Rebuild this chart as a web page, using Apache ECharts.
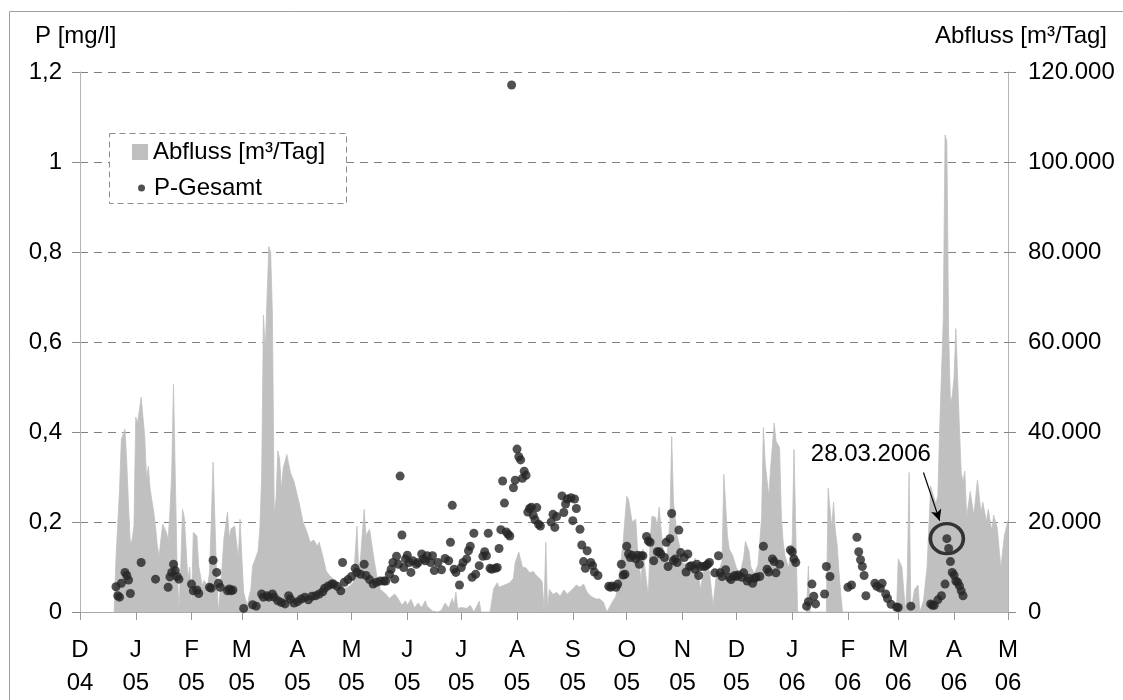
<!DOCTYPE html>
<html>
<head>
<meta charset="utf-8">
<style>
  html, body { margin: 0; padding: 0; background: #fff; }
  #chart { width: 1123px; height: 700px; }
</style>
<script src="https://cdn.jsdelivr.net/npm/echarts@6/dist/echarts.min.js"></script>
</head>
<body>
<div id="chart"></div>
<script>
// Zeitraum der Darstellung (Tagesachse)
const startDatum = '2004-12-01';
const endDatum = '2006-05-01';

// Monatsbuchstaben für die Achsenbeschriftung
const monatsKuerzel = ['J', 'F', 'M', 'A', 'M', 'J', 'J', 'A', 'S', 'O', 'N', 'D'];

// Abfluss [m³/Tag]
const abflussDatum = [
  '2004-12-20','2004-12-21','2004-12-23','2004-12-24','2004-12-26','2004-12-27','2004-12-28','2004-12-29','2004-12-30','2004-12-31',
  '2005-01-01','2005-01-02','2005-01-04','2005-01-05','2005-01-06','2005-01-07','2005-01-08','2005-01-09','2005-01-11','2005-01-12',
  '2005-01-13','2005-01-14','2005-01-15','2005-01-16','2005-01-18','2005-01-19','2005-01-20','2005-01-21','2005-01-22','2005-01-23',
  '2005-01-24','2005-01-25','2005-01-26','2005-01-27','2005-01-28','2005-01-30','2005-01-31','2005-02-01','2005-02-02','2005-02-04',
  '2005-02-05','2005-02-07','2005-02-08','2005-02-10','2005-02-11','2005-02-12','2005-02-13','2005-02-14','2005-02-15','2005-02-16',
  '2005-02-18','2005-02-19','2005-02-21','2005-02-22','2005-02-23','2005-02-25','2005-02-26','2005-02-27','2005-02-28','2005-03-01',
  '2005-03-02','2005-03-04','2005-03-05','2005-03-06','2005-03-07','2005-03-09','2005-03-10','2005-03-11','2005-03-12','2005-03-13',
  '2005-03-14','2005-03-15','2005-03-16','2005-03-17','2005-03-18','2005-03-19','2005-03-20','2005-03-21','2005-03-22','2005-03-23',
  '2005-03-24','2005-03-26','2005-03-27','2005-03-28','2005-03-30','2005-03-31','2005-04-02','2005-04-04','2005-04-06','2005-04-08',
  '2005-04-10','2005-04-12','2005-04-13','2005-04-15','2005-04-17','2005-04-19','2005-04-21','2005-04-23','2005-04-25','2005-04-27',
  '2005-04-30','2005-05-02','2005-05-04','2005-05-05','2005-05-06','2005-05-08','2005-05-09','2005-05-11','2005-05-13','2005-05-15',
  '2005-05-17','2005-05-20','2005-05-22','2005-05-25','2005-05-27','2005-05-29','2005-05-31','2005-06-01','2005-06-03','2005-06-05',
  '2005-06-07','2005-06-09','2005-06-11','2005-06-12','2005-06-15','2005-06-16','2005-06-18','2005-06-20','2005-06-22','2005-06-24',
  '2005-06-26','2005-06-27','2005-06-28','2005-06-29','2005-07-01','2005-07-04','2005-07-06','2005-07-08','2005-07-09','2005-07-11',
  '2005-07-12','2005-07-17','2005-07-19','2005-07-21','2005-07-22','2005-07-25','2005-07-28','2005-07-30','2005-07-31','2005-08-02',
  '2005-08-03','2005-08-04','2005-08-06','2005-08-08','2005-08-10','2005-08-12','2005-08-14','2005-08-15','2005-08-16','2005-08-17',
  '2005-08-18','2005-08-19','2005-08-21','2005-08-23','2005-08-25','2005-08-27','2005-08-29','2005-08-30','2005-09-01','2005-09-03',
  '2005-09-05','2005-09-07','2005-09-09','2005-09-11','2005-09-12','2005-09-14','2005-09-16','2005-09-18','2005-09-20','2005-09-22',
  '2005-09-23','2005-09-25','2005-09-27','2005-09-29','2005-10-01','2005-10-02','2005-10-04','2005-10-06','2005-10-07','2005-10-09',
  '2005-10-10','2005-10-11','2005-10-13','2005-10-14','2005-10-15','2005-10-17','2005-10-18','2005-10-19','2005-10-20','2005-10-21',
  '2005-10-23','2005-10-24','2005-10-25','2005-10-26','2005-10-27','2005-10-29','2005-10-31','2005-11-01','2005-11-03','2005-11-04',
  '2005-11-06','2005-11-08','2005-11-09','2005-11-11','2005-11-12','2005-11-13','2005-11-15','2005-11-16','2005-11-18','2005-11-20',
  '2005-11-22','2005-11-23','2005-11-24','2005-11-26','2005-11-27','2005-11-29','2005-12-01','2005-12-03','2005-12-05','2005-12-06',
  '2005-12-08','2005-12-09','2005-12-11','2005-12-13','2005-12-15','2005-12-16','2005-12-17','2005-12-19','2005-12-20','2005-12-22',
  '2005-12-23','2005-12-25','2005-12-26','2005-12-27','2005-12-28','2005-12-30','2006-01-01','2006-01-02','2006-01-03','2006-01-04',
  '2006-01-09','2006-01-10','2006-01-11','2006-01-20','2006-01-21','2006-01-23','2006-01-24','2006-01-25','2006-01-26','2006-01-27',
  '2006-01-28','2006-01-29','2006-02-28','2006-03-01','2006-03-02','2006-03-03','2006-03-05','2006-03-06','2006-03-07','2006-03-08',
  '2006-03-10','2006-03-12','2006-03-13','2006-03-15','2006-03-17','2006-03-19','2006-03-20','2006-03-22','2006-03-23','2006-03-24',
  '2006-03-26','2006-03-27','2006-03-28','2006-03-29','2006-03-30','2006-03-31','2006-04-01','2006-04-02','2006-04-03','2006-04-04',
  '2006-04-05','2006-04-06','2006-04-07','2006-04-08','2006-04-10','2006-04-12','2006-04-14','2006-04-16','2006-04-17','2006-04-19',
  '2006-04-20','2006-04-22','2006-04-23','2006-04-25','2006-04-27','2006-04-29','2006-05-01'
];
const abflussWert = [
  0, 12000, 27300, 38400, 40600, 33300, 23500, 15100, 16200, 19100,
  43300, 42000, 47700, 47700, 39000, 29500, 32400, 27300, 22200, 18900,
  14700, 12400, 16200, 19500, 17700, 16000, 22200, 31000, 50600, 29500,
  10200, 700, 10000, 22800, 21000, 7300, 10000, 1300, 17700, 16900,
  10200, 5800, 7000, 5800, 8900, 20000, 33300, 20600, 7300, 0,
  10000, 16200, 22200, 16500, 18500, 19100, 19100, 12000, 20600, 12000,
  4400, 1300, 3500, 5000, 10200, 12400, 13500, 18400, 30000, 66000,
  58000, 70000, 81200, 80000, 66000, 22000, 25000, 35800, 34000, 27300,
  32000, 35000, 33000, 31000, 29000, 27300, 24000, 20000, 18000, 15500,
  16000, 14600, 15500, 12400, 9000, 8000, 7300, 6000, 5800, 5100,
  5800, 6600, 19100, 9000, 12000, 22800, 17000, 18400, 13000, 8000,
  5000, 4000, 3000, 4000, 2900, 1500, 2500, 1500, 2800, 900,
  2000, 1000, 2500, 1300, 200, 300, 0, 400, 2000, 900,
  3000, 1500, 4400, 800, 1000, 800, 1500, 0, 0, 2400,
  0, 0, 5100, 6500, 5500, 6000, 6500, 7500, 11000, 13300,
  13000, 10000, 9800, 8700, 9000, 8000, 7300, 6600, 500, 15500,
  500, 5000, 3900, 4400, 3500, 4900, 4000, 4400, 5100, 6000,
  5500, 6200, 4400, 3500, 3500, 2900, 2900, 2200, 0, 1500,
  2200, 3500, 8500, 15500, 25700, 25000, 20000, 20600, 14000, 6600,
  14000, 10000, 3500, 15500, 21300, 21000, 19000, 23300, 23500, 14500,
  11000, 11000, 20000, 39000, 24500, 17000, 13500, 11000, 10500, 9000,
  9800, 12000, 10500, 5100, 5100, 9500, 10000, 9000, 1300, 9000,
  10000, 11300, 30600, 17000, 14000, 12500, 9800, 8500, 12000, 15700,
  13500, 10000, 8500, 10500, 21000, 41000, 33000, 25700, 32000, 42000,
  38000, 36500, 21000, 15500, 12500, 9800, 15500, 36100, 36000, 0,
  0, 10200, 0, 0, 27500, 18700, 24400, 18000, 15000, 9000,
  4000, 0, 0, 11800, 11500, 10000, 0, 8000, 31000, 0,
  5000, 6000, 0, 2500, 10000, 28000, 26500, 24000, 26000, 40700,
  65000, 106000, 104500, 62000, 46300, 48000, 52000, 63000, 52000, 40700,
  30900, 29000, 31300, 21000, 26800, 21500, 29300, 22000, 24400, 20000,
  22800, 18000, 21500, 18800, 9800, 17000, 20300
];

// P-Gesamt [mg/l]
const pDatum = [
  '2004-12-21','2004-12-22','2004-12-23','2004-12-24','2004-12-26','2004-12-27','2004-12-28','2004-12-29','2005-01-04','2005-01-12',
  '2005-01-19','2005-01-20','2005-01-21','2005-01-22','2005-01-23','2005-01-24','2005-01-25','2005-02-01','2005-02-02','2005-02-04',
  '2005-02-05','2005-02-11','2005-02-12','2005-02-13','2005-02-15','2005-02-16','2005-02-17','2005-02-21','2005-02-22','2005-02-23',
  '2005-02-24','2005-03-02','2005-03-07','2005-03-09','2005-03-12','2005-03-13','2005-03-15','2005-03-16','2005-03-18','2005-03-19',
  '2005-03-21','2005-03-23','2005-03-25','2005-03-27','2005-03-28','2005-03-30','2005-04-01','2005-04-03','2005-04-05','2005-04-07',
  '2005-04-09','2005-04-11','2005-04-13','2005-04-15','2005-04-16','2005-04-18','2005-04-20','2005-04-21','2005-04-23','2005-04-25',
  '2005-04-26','2005-04-27','2005-04-29','2005-05-01','2005-05-03','2005-05-04','2005-05-06','2005-05-08','2005-05-09','2005-05-11',
  '2005-05-13','2005-05-15','2005-05-17','2005-05-19','2005-05-20','2005-05-22','2005-05-23','2005-05-24','2005-05-25','2005-05-26',
  '2005-05-27','2005-05-28','2005-05-29','2005-05-30','2005-05-31','2005-06-01','2005-06-02','2005-06-03','2005-06-04','2005-06-06',
  '2005-06-07','2005-06-09','2005-06-10','2005-06-11','2005-06-12','2005-06-14','2005-06-15','2005-06-16','2005-06-18','2005-06-20',
  '2005-06-22','2005-06-24','2005-06-25','2005-06-26','2005-06-27','2005-06-28','2005-06-30','2005-07-01','2005-07-02','2005-07-04',
  '2005-07-05','2005-07-06','2005-07-07','2005-07-08','2005-07-09','2005-07-11','2005-07-13','2005-07-14','2005-07-15','2005-07-16',
  '2005-07-17','2005-07-18','2005-07-20','2005-07-21','2005-07-22','2005-07-23','2005-07-24','2005-07-25','2005-07-26','2005-07-27',
  '2005-07-28','2005-07-29','2005-07-30','2005-07-31','2005-08-01','2005-08-02','2005-08-03','2005-08-04','2005-08-05','2005-08-06',
  '2005-08-07','2005-08-08','2005-08-09','2005-08-10','2005-08-11','2005-08-12','2005-08-13','2005-08-14','2005-08-20','2005-08-21',
  '2005-08-22','2005-08-23','2005-08-26','2005-08-27','2005-08-28','2005-08-29','2005-08-31','2005-09-01','2005-09-02','2005-09-03',
  '2005-09-05','2005-09-06','2005-09-07','2005-09-08','2005-09-09','2005-09-11','2005-09-12','2005-09-13','2005-09-15','2005-09-21',
  '2005-09-22','2005-09-23','2005-09-25','2005-09-26','2005-09-28','2005-09-29','2005-09-30','2005-10-01','2005-10-02','2005-10-03',
  '2005-10-04','2005-10-06','2005-10-07','2005-10-08','2005-10-09','2005-10-10','2005-10-12','2005-10-13','2005-10-14','2005-10-16',
  '2005-10-18','2005-10-19','2005-10-20','2005-10-22','2005-10-23','2005-10-24','2005-10-25','2005-10-26','2005-10-27','2005-10-28',
  '2005-10-29','2005-10-30','2005-10-31','2005-11-02','2005-11-03','2005-11-04','2005-11-05','2005-11-06','2005-11-08','2005-11-09',
  '2005-11-10','2005-11-11','2005-11-13','2005-11-14','2005-11-15','2005-11-16','2005-11-19','2005-11-21','2005-11-22','2005-11-23',
  '2005-11-25','2005-11-27','2005-11-28','2005-11-30','2005-12-01','2005-12-02','2005-12-04','2005-12-05','2005-12-07','2005-12-08',
  '2005-12-10','2005-12-11','2005-12-12','2005-12-14','2005-12-16','2005-12-18','2005-12-19','2005-12-21','2005-12-22','2005-12-23',
  '2005-12-25','2005-12-31','2006-01-01','2006-01-02','2006-01-03','2006-01-09','2006-01-10','2006-01-12','2006-01-13','2006-01-14',
  '2006-01-19','2006-01-20','2006-01-22','2006-02-01','2006-02-03','2006-02-06','2006-02-07','2006-02-08','2006-02-09','2006-02-10',
  '2006-02-11','2006-02-16','2006-02-17','2006-02-19','2006-02-20','2006-02-22','2006-02-23','2006-02-25','2006-02-28','2006-03-01',
  '2006-03-08','2006-03-19','2006-03-20','2006-03-21','2006-03-23','2006-03-25','2006-03-27','2006-03-28','2006-03-29','2006-03-30',
  '2006-03-31','2006-04-01','2006-04-02','2006-04-03','2006-04-04','2006-04-05','2006-04-06'
];
const pWert = [
  0.056, 0.036, 0.033, 0.064, 0.088, 0.081, 0.071, 0.041, 0.110, 0.073,
  0.055, 0.078, 0.088, 0.106, 0.092, 0.079, 0.073, 0.062, 0.047, 0.049,
  0.041, 0.055, 0.053, 0.115, 0.088, 0.064, 0.055, 0.047, 0.051, 0.047,
  0.049, 0.008, 0.016, 0.013, 0.040, 0.033, 0.036, 0.033, 0.040, 0.033,
  0.025, 0.021, 0.018, 0.036, 0.029, 0.020, 0.023, 0.029, 0.033, 0.027,
  0.035, 0.036, 0.040, 0.045, 0.053, 0.058, 0.062, 0.062, 0.057, 0.047,
  0.110, 0.066, 0.072, 0.079, 0.097, 0.088, 0.084, 0.106, 0.081, 0.072,
  0.062, 0.066, 0.069, 0.069, 0.069, 0.084, 0.095, 0.110, 0.073, 0.124,
  0.106, 0.302, 0.171, 0.099, 0.118, 0.126, 0.110, 0.088, 0.114, 0.106,
  0.110, 0.129, 0.118, 0.114, 0.125, 0.110, 0.125, 0.092, 0.110, 0.094,
  0.119, 0.114, 0.155, 0.237, 0.095, 0.088, 0.060, 0.099, 0.110, 0.118,
  0.136, 0.146, 0.077, 0.175, 0.084, 0.103, 0.124, 0.134, 0.125, 0.175,
  0.097, 0.095, 0.097, 0.099, 0.141, 0.183, 0.291, 0.242, 0.178, 0.173,
  0.169, 1.171, 0.276, 0.293, 0.362, 0.345, 0.338, 0.297, 0.313, 0.304,
  0.222, 0.230, 0.233, 0.215, 0.205, 0.232, 0.195, 0.191, 0.200, 0.217,
  0.188, 0.212, 0.258, 0.221, 0.240, 0.251, 0.254, 0.203, 0.251, 0.230,
  0.184, 0.149, 0.112, 0.097, 0.136, 0.110, 0.103, 0.089, 0.081, 0.057,
  0.055, 0.058, 0.055, 0.062, 0.106, 0.082, 0.084, 0.146, 0.129, 0.121,
  0.126, 0.118, 0.126, 0.106, 0.125, 0.125, 0.168, 0.158, 0.155, 0.114,
  0.134, 0.134, 0.129, 0.121, 0.155, 0.101, 0.163, 0.219, 0.114, 0.118,
  0.110, 0.182, 0.132, 0.121, 0.089, 0.129, 0.101, 0.103, 0.095, 0.106,
  0.081, 0.101, 0.101, 0.103, 0.106, 0.110, 0.087, 0.125, 0.087, 0.079,
  0.094, 0.077, 0.072, 0.081, 0.079, 0.082, 0.077, 0.087, 0.069, 0.075,
  0.064, 0.075, 0.077, 0.079, 0.146, 0.095, 0.089, 0.118, 0.112, 0.087,
  0.106, 0.138, 0.134, 0.118, 0.110, 0.013, 0.023, 0.062, 0.035, 0.018,
  0.040, 0.101, 0.079, 0.055, 0.060, 0.166, 0.134, 0.116, 0.101, 0.081,
  0.036, 0.064, 0.057, 0.053, 0.064, 0.040, 0.030, 0.017, 0.011, 0.010,
  0.013, 0.018, 0.015, 0.015, 0.027, 0.036, 0.062, 0.163, 0.141, 0.112,
  0.088, 0.082, 0.069, 0.066, 0.058, 0.047, 0.036
];

// Hervorgehobener Messwert
const markierungDatum = '2006-03-28';
const markierungText = '28.03.2006';

// Tageskategorien der x-Achse aufbauen
function isoTag(ms) {
  return new Date(ms).toISOString().slice(0, 10);
}
const tage = [];
for (let t = Date.parse(startDatum + 'T00:00:00Z'); t <= Date.parse(endDatum + 'T00:00:00Z'); t += 86400000) {
  tage.push(isoTag(t));
}
const istMonatsanfang = (idx, wert) => wert.slice(8, 10) === '01';

const abflussDaten = abflussDatum.map((d, i) => [d, abflussWert[i]]);
const pDaten = pDatum.map((d, i) => [d, pWert[i]]);
const markierungWert = pWert[pDatum.indexOf(markierungDatum)];

const schrift = 'Liberation Sans, Arial, Helvetica, sans-serif';
const schriftGroesse = 24;

const chart = echarts.init(document.getElementById('chart'), null, { renderer: 'canvas' });

chart.setOption({
  animation: false,
  backgroundColor: '#ffffff',
  textStyle: { fontFamily: schrift },
  grid: { left: 80, right: 115, top: 72, bottom: 87, containLabel: false },
  xAxis: [
    {
      type: 'category',
      data: tage,
      boundaryGap: false,
      axisLine: { show: true, lineStyle: { color: '#b4b4b4', width: 1 } },
      axisTick: { show: true, interval: istMonatsanfang, length: 8, lineStyle: { color: '#9a9a9a' } },
      axisLabel: {
        interval: istMonatsanfang,
        margin: 22,
        color: '#000',
        fontFamily: schrift,
        fontSize: schriftGroesse,
        lineHeight: 33,
        formatter: v => monatsKuerzel[parseInt(v.slice(5, 7), 10) - 1] + '\n' + v.slice(2, 4)
      },
      splitLine: { show: false }
    },
    {
      type: 'category',
      data: tage,
      position: 'top',
      boundaryGap: false,
      axisLine: { show: true, lineStyle: { color: '#a8a8a8', width: 1 } },
      axisTick: { show: false },
      axisLabel: { show: false },
      splitLine: { show: false }
    }
  ],
  yAxis: [
    {
      type: 'value',
      min: 0,
      max: 1.2,
      interval: 0.2,
      position: 'left',
      axisLine: { show: true, lineStyle: { color: '#b4b4b4', width: 1 } },
      axisTick: { show: true, length: 8, lineStyle: { color: '#8a8a8a' } },
      axisLabel: {
        margin: 18,
        color: '#000',
        fontFamily: schrift,
        fontSize: schriftGroesse,
        formatter: v => String(Math.round(v * 10) / 10).replace('.', ',')
      },
      splitLine: { show: true, lineStyle: { color: '#808080', width: 1, type: [8, 6] } }
    },
    {
      type: 'value',
      min: 0,
      max: 120000,
      interval: 20000,
      position: 'right',
      axisLine: { show: true, lineStyle: { color: '#b4b4b4', width: 1 } },
      axisTick: { show: true, length: 8, lineStyle: { color: '#8a8a8a' } },
      axisLabel: {
        margin: 20,
        color: '#000',
        fontFamily: schrift,
        fontSize: schriftGroesse,
        formatter: v => (v === 0 ? '0' : String(v / 1000) + '.000')
      },
      splitLine: { show: false }
    }
  ],
  legend: [
    {
      data: ['Abfluss [m³/Tag]'],
      orient: 'vertical',
      left: 132,
      top: 140,
      padding: 0,
      itemWidth: 16,
      itemHeight: 16,
      icon: 'rect',
      selectedMode: false,
      z: 10,
      textStyle: { color: '#000', fontFamily: schrift, fontSize: schriftGroesse, lineHeight: 24 }
    },
    {
      data: ['P-Gesamt'],
      orient: 'vertical',
      left: 138,
      top: 176,
      padding: 0,
      itemWidth: 7,
      itemHeight: 7,
      icon: 'circle',
      selectedMode: false,
      z: 10,
      textStyle: { color: '#000', fontFamily: schrift, fontSize: schriftGroesse, lineHeight: 24, padding: [0, 0, 0, 4] }
    }
  ],
  graphic: [
    {
      type: 'rect',
      z: 1,
      silent: true,
      shape: { x: 9.5, y: 11.5, width: 1300, height: 900 },
      style: { fill: 'none', stroke: '#a0a0a0', lineWidth: 1 }
    },
    {
      type: 'rect',
      z: 5,
      silent: true,
      shape: { x: 109.5, y: 133.5, width: 237, height: 70 },
      style: { fill: '#ffffff', stroke: '#8c8c8c', lineWidth: 1, lineDash: [6, 4] }
    },
    {
      type: 'text',
      z: 5,
      silent: true,
      left: 35,
      top: 24,
      style: { text: 'P [mg/l]', fill: '#000', font: schriftGroesse + 'px ' + schrift }
    },
    {
      type: 'text',
      z: 5,
      silent: true,
      right: 16,
      top: 24,
      style: { text: 'Abfluss [m³/Tag]', fill: '#000', font: schriftGroesse + 'px ' + schrift }
    }
  ],
  series: [
    {
      name: 'Abfluss [m³/Tag]',
      type: 'line',
      xAxisIndex: 0,
      yAxisIndex: 1,
      data: abflussDaten,
      showSymbol: false,
      symbol: 'none',
      z: 1,
      lineStyle: { color: '#c0c0c0', width: 0.8 },
      itemStyle: { color: '#c0c0c0' },
      areaStyle: { color: '#c0c0c0', opacity: 1 }
    },
    {
      name: 'P-Gesamt',
      type: 'scatter',
      xAxisIndex: 0,
      yAxisIndex: 0,
      data: pDaten,
      symbol: 'circle',
      symbolSize: 9,
      z: 3,
      itemStyle: { color: '#262626' },
      markPoint: {
        silent: true,
        symbol: 'circle',
        symbolSize: [33, 30],
        itemStyle: { color: 'rgba(0,0,0,0)', borderColor: '#333333', borderWidth: 3.5 },
        label: {
          show: true,
          position: 'inside',
          offset: [-76, -84],
          formatter: markierungText,
          color: '#000',
          fontFamily: schrift,
          fontSize: 24
        },
        data: [{ coord: [markierungDatum, markierungWert] }]
      },
      markLine: {
        silent: true,
        symbol: ['none', 'arrow'],
        symbolSize: [8, 11],
        lineStyle: { color: '#000', width: 1.2, type: 'solid' },
        label: { show: false },
        data: [[{ coord: ['2006-03-15', 0.31] }, { coord: ['2006-03-24', 0.203] }]]
      }
    }
  ]
});
</script>
</body>
</html>
